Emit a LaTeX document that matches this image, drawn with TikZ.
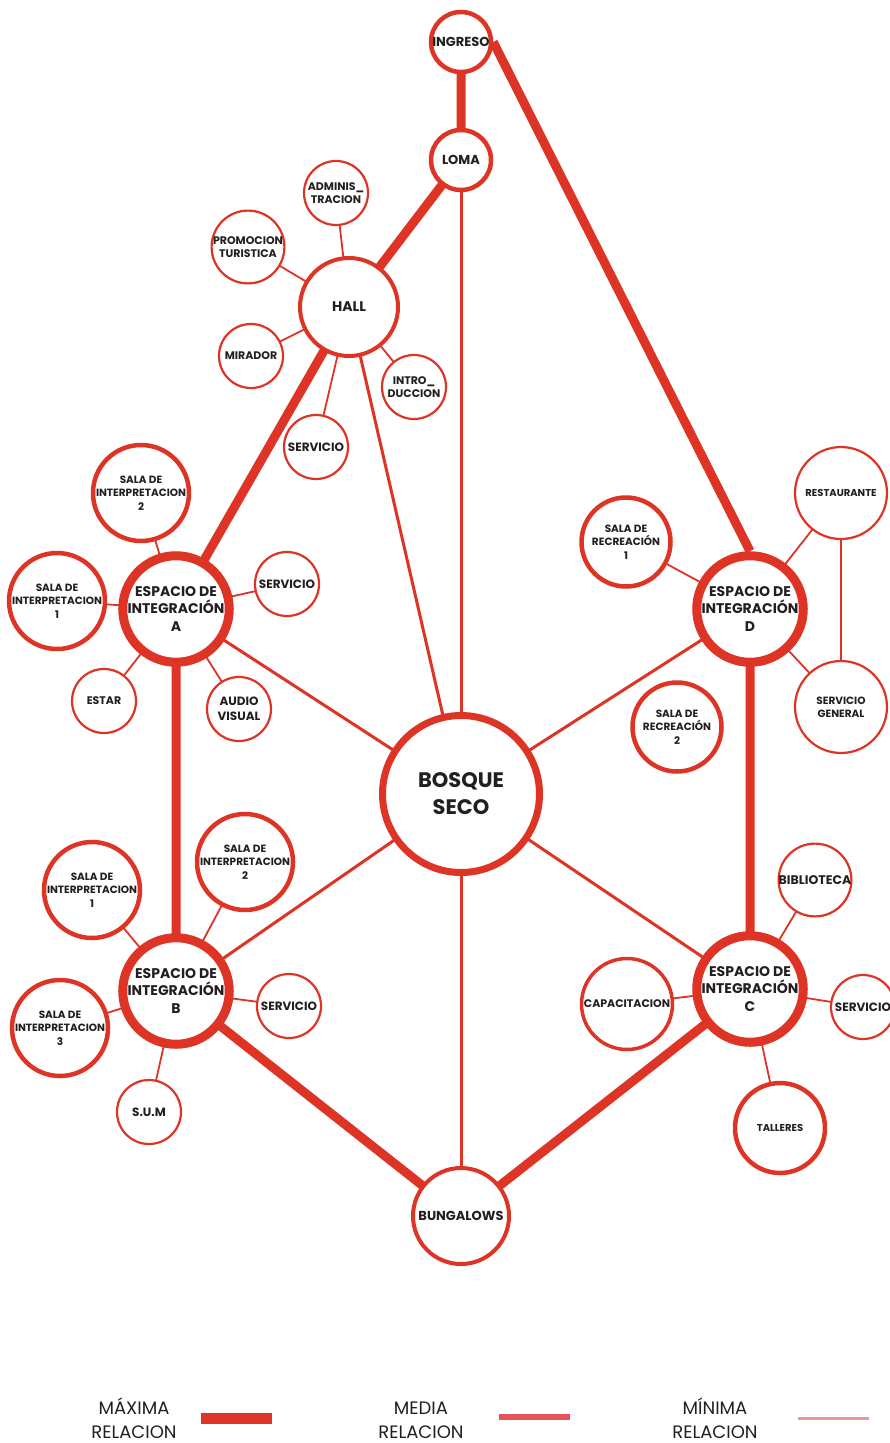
\documentclass[tikz,border=0pt]{standalone}
\usepackage{fontspec}
\setmainfont{Poppins}
\usetikzlibrary{backgrounds}
\definecolor{relred}{RGB}{222,52,38}
\definecolor{medred}{RGB}{229,82,90}
\definecolor{minred}{RGB}{233,152,158}
\definecolor{ink}{RGB}{35,31,32}
\newcommand\fsz[2]{\fontsize{#1}{#2}\selectfont\bfseries}
\begin{document}
\begin{tikzpicture}[x=1pt, y=-1pt,
  every node/.style={text=ink, align=center, inner sep=0pt},
  room/.style={circle, draw=relred, fill=white, minimum size=#1},
  thinroom/.style={room=#1, line width=2.2pt, font=\fsz{11}{13}},
  midroom/.style={room=#1, line width=4.5pt, font=\fsz{10.5}{13.3}},
  hub/.style={room=99, line width=9pt, font=\fsz{14}{17.5}},
  maxrel/.style={relred, line width=9pt},
  medrel/.style={relred, line width=3pt},
  minrel/.style={relred, line width=1.8pt},
  legend/.style={font=\fontsize{18}{23.5}\selectfont}]
  \useasboundingbox (0,0) rectangle (889,1443);
  % spine
  \node[midroom=60, font=\fsz{13}{15}] (ingreso) at (461,42) {INGRESO};
  \node[midroom=60, font=\fsz{13}{15}] (loma) at (461,160) {LOMA};
  \node[room=98, line width=4pt, font=\fsz{14}{16}] (hall) at (349,307) {HALL};
  \node[room=157, line width=7pt, font=\fsz{21}{27}] (bosque) at (461,794) {BOSQUE\\SECO};
  \node[room=96, line width=4pt, font=\fsz{13}{15}] (bungalows) at (461,1216) {BUNGALOWS};
  \node[hub] (espA) at (176,609) {ESPACIO DE\\INTEGRACIÓN\\A};
  \node[hub] (espB) at (176,991) {ESPACIO DE\\INTEGRACIÓN\\B};
  \node[hub] (espC) at (750,989) {ESPACIO DE\\INTEGRACIÓN\\C};
  \node[hub] (espD) at (750,609) {ESPACIO DE\\INTEGRACIÓN\\D};
  % hall
  \node[thinroom=64] (admin) at (336,193) {ADMINIS\_\\TRACION};
  \node[thinroom=64] (promo) at (248,247) {PROMOCION\\TURISTICA};
  \node[thinroom=64] (mirador) at (251,356) {MIRADOR};
  \node[thinroom=64] (intro) at (414,387) {INTRO\_\\DUCCION};
  \node[thinroom=64, font=\fsz{12}{14}] (servH) at (316,447) {SERVICIO};
  % espacio A
  \node[midroom=90] (salaA2) at (141,493) {SALA DE\\INTERPRETACION\\2};
  \node[midroom=90] (salaA1) at (57,601) {SALA DE\\INTERPRETACION\\1};
  \node[thinroom=64, font=\fsz{12}{14}] (servA) at (287,584) {SERVICIO};
  \node[thinroom=64] (estar) at (104,701) {ESTAR};
  \node[thinroom=64, font=\fsz{12}{15}] (audio) at (239,709) {AUDIO\\VISUAL};
  % espacio D
  \node[midroom=89] (recr1) at (626,542) {SALA DE\\RECREACIÓN\\1};
  \node[thinroom=92, font=\fsz{10}{12}] (resta) at (841,493) {RESTAURANTE};
  \node[thinroom=92, font=\fsz{10.5}{13}] (servgen) at (841,707) {SERVICIO\\GENERAL};
  \node[midroom=89] (recr2) at (677,727) {SALA DE\\RECREACIÓN\\2};
  % espacio B
  \node[midroom=90] (salaB1) at (92,890) {SALA DE\\INTERPRETACION\\1};
  \node[midroom=90] (salaB2) at (245,862) {SALA DE\\INTERPRETACION\\2};
  \node[midroom=88] (salaB3) at (60,1028) {SALA DE\\INTERPRETACION\\3};
  \node[thinroom=64, font=\fsz{12}{14}] (servB) at (289,1006) {SERVICIO};
  \node[thinroom=64, font=\fsz{12}{14}] (sum) at (149,1112) {S.U.M};
  % espacio C
  \node[thinroom=64, font=\fsz{12.5}{14}] (biblio) at (815,880) {BIBLIOTECA};
  \node[room=91, line width=3.5pt, font=\fsz{11}{13}] (capac) at (627,1004) {CAPACITACION};
  \node[thinroom=64, font=\fsz{12}{14}] (servC) at (863,1007) {SERVICIO};
  \node[midroom=90, font=\fsz{10}{12}] (talleres) at (780,1128) {TALLERES};
  % relations
  \begin{scope}[on background layer]
    \draw[maxrel] (ingreso.center) -- (loma.center) -- (hall.center) -- (espA.center) -- (espB.center)
      -- (bungalows.center) -- (espC.center) -- (espD.center);
    \draw[maxrel] (ingreso.east) -- (espD.north);
    \foreach \a in {loma, hall, espA, espB, espC, espD, bungalows}
      \draw[medrel] (\a.center) -- (bosque.center);
    \foreach \a/\b in {hall/admin, hall/promo, hall/mirador, hall/intro, hall/servH,
        espA/salaA2, espA/salaA1, espA/servA, espA/estar, espA/audio,
        espD/recr1, espD/resta, espD/servgen, resta/servgen,
        espB/salaB1, espB/salaB2, espB/salaB3, espB/servB, espB/sum,
        espC/biblio, espC/capac, espC/servC, espC/talleres}
      \draw[minrel] (\a.center) -- (\b.center);
  \end{scope}
  % legend
  \foreach \n/\x/\w/\c/\bx/\by/\t in {max/134/MÁXIMA/relred/201/1418/11, med/421/MEDIA/medred/499/1416.5/6, min/715/MÍNIMA/minred/798/1418.5/3} {
    \node[legend] (leg\n) at (\x,1418) {\vphantom{ÁÍ}\w\\RELACION};
    \draw[\c, line width=\t pt] (\bx,\by) -- ++(71,0);
  }
\end{tikzpicture}
\end{document}
